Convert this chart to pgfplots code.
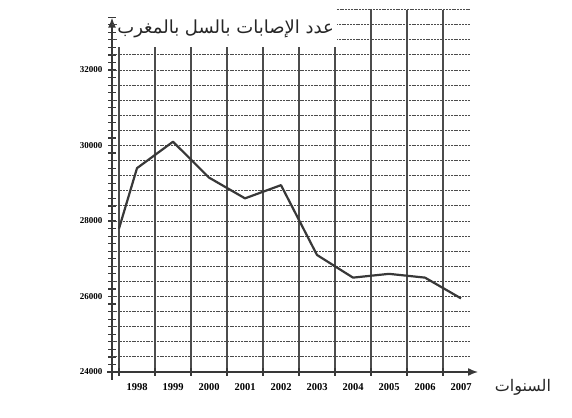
\documentclass[border=0pt]{standalone}
\usepackage{fontspec}
\setmainfont{Liberation Serif}
\newfontfamily\arabicfont[Script=Arabic]{DejaVu Sans}
\TeXXeTstate=1
\usepackage{pgfplots}
\pgfplotsset{compat=1.18}
\usetikzlibrary{arrows.meta}
\definecolor{ink}{gray}{0.22}
\definecolor{gridink}{gray}{0.3}
\begin{document}
\begin{tikzpicture}
\useasboundingbox (0,0) rectangle (572pt,417pt);
\begin{axis}[
  at={(112pt,45pt)}, anchor=south west,
  scale only axis, width=358pt, height=362.4pt,
  xmin=1997.30556, xmax=2007.25, ymin=24000, ymax=33600,
  clip=false,
  axis lines=left,
  x axis line style={ink, line width=1.4pt, -{Latex[length=10pt,width=8pt]}, shorten >=-8pt, shorten <=-5pt},
  y axis line style={ink, line width=1.6pt, -{Latex[length=10pt,width=8pt]}, shorten >=8pt, shorten <=-8pt},
  xtick={1997.5,1998.5,1999.5,2000.5,2001.5,2002.5,2003.5,2004.5,2005.5,2006.5},
  xticklabels={},
  xmajorgrids,
  major grid style={gridink, line width=2pt},
  extra x ticks={1998,1999,2000,2001,2002,2003,2004,2005,2006,2007},
  extra x tick labels={1998,1999,2000,2001,2002,2003,2004,2005,2006,2007},
  extra x tick style={grid=none, major tick length=0pt, tick label style={font=\fontsize{10.5}{12}\selectfont\bfseries, yshift=-8pt}},
  ytick={24000,26000,28000,30000,32000},
  scaled y ticks=false,
  minor ytick={24000,24200,...,33400},
  extra y ticks={24400,24800,...,33200},
  extra y tick labels={},
  extra y tick style={grid=major, major tick length=0pt, major grid style={gridink, line width=1pt, dash pattern=on 2pt off 0.8pt}},
  tick align=center,
  major tick length=8pt, minor tick length=8pt,
  tick style={ink, line width=1.2pt},
  yticklabel style={font=\fontsize{9}{10}\selectfont\bfseries, xshift=-2pt},
  /pgf/number format/assume math mode=true,
  /pgf/number format/1000 sep={},
]
\addplot[ink, line width=2.2pt, line join=round] coordinates {
 (1997.5,27800) (1998,29400) (1999,30100) (2000,29150) (2001,28600)
 (2002,28950) (2003,27100) (2004,26500) (2005,26600) (2006,26500) (2007,25950)};
\fill[white] (axis cs:1997.44,32620) rectangle (axis cs:2003.55,33650);
\draw[gridink, line width=1pt, dash pattern=on 2pt off 0.8pt] (axis cs:2003.55,33600) -- (axis cs:2007.25,33600);
\node[font=\fontsize{18}{20}\selectfont, text=black!85] at (axis cs:2000.46,33080) {\arabicfont\beginR عدد الإصابات بالسل بالمغرب\endR};
\node[font=\fontsize{16}{18}\selectfont, text=black!85] at (axis cs:2008.72,23600) {\arabicfont\beginR السنوات\endR};
\end{axis}
\end{tikzpicture}
\end{document}
